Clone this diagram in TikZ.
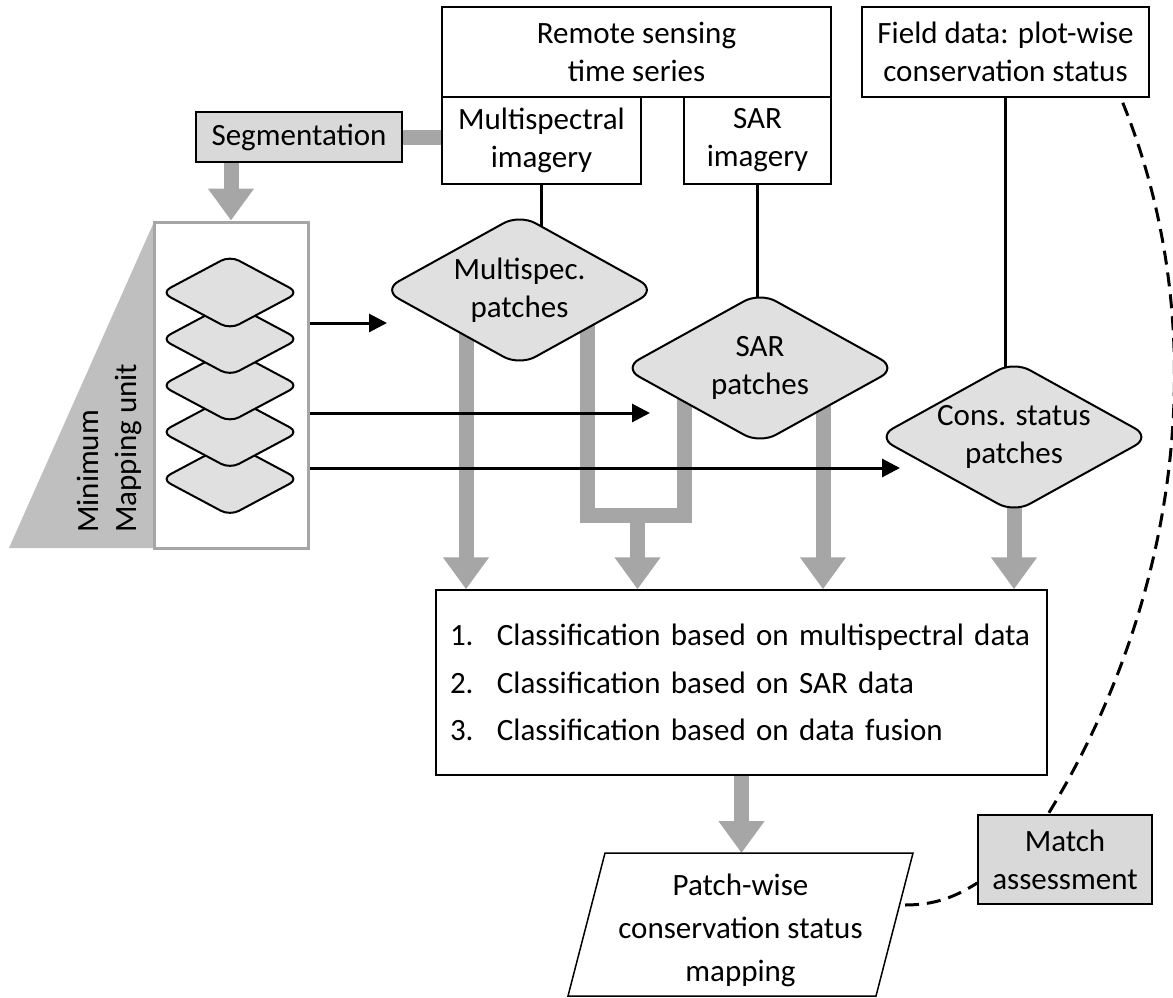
\documentclass[tikz,border=0pt]{standalone}
\usepackage{fontspec}
\setmainfont{Carlito}
\usetikzlibrary{arrows.meta,shapes.geometric,backgrounds}
\definecolor{barg}{HTML}{A6A6A6}
\definecolor{patchg}{HTML}{E0E0E0}
\definecolor{boxg}{HTML}{D9D9D9}
\definecolor{wedgeg}{HTML}{BFBFBF}
\begin{document}
\begin{tikzpicture}[x=1pt,y=-1pt,
  txt/.style={font=\fontsize{31}{38}\selectfont, align=center, inner sep=0pt},
  databox/.style={txt, draw, line width=1.5pt, fill=white},
  graybox/.style={databox, fill=boxg},
  patch/.style={txt, diamond, draw, line width=2pt, fill=patchg, rounded corners=18pt,
                aspect=1.8, minimum width=274pt, minimum height=152pt},
  mini/.style={diamond, draw, line width=2pt, fill=patchg, rounded corners=10pt,
               inner sep=0pt, minimum width=138pt, minimum height=74pt},
  link/.style={line width=2.5pt},
  flow/.style={line width=3pt, -{Triangle[width=18pt,length=18pt]}},
  gbar/.style={draw=barg, line width=15pt, line join=miter},
  garrow/.style={gbar, -{Triangle[width=44pt,length=32pt]}},
  check/.style={line width=3pt, dash pattern=on 14pt off 8pt}]
\useasboundingbox (0,0) rectangle (1173,998);

% data sources
\node[databox, minimum width=389pt, minimum height=90pt] (rs) at (636.5,52) {Remote sensing\\time series};
\node[databox, minimum width=199pt, minimum height=87pt] (msimg) at (541.5,140.5) {Multispectral\\imagery};
\node[databox, minimum width=147pt, minimum height=87pt] (sarimg) at (757.5,140.5) {SAR\\imagery};
\node[databox, minimum width=287pt, minimum height=90pt] (field) at (1005.5,52) {Field data: plot-wise\\conservation status};
\node[graybox, minimum width=206pt, minimum height=50pt] (seg) at (299,137) {Segmentation};

% minimum mapping unit panel
\fill[wedgeg] (154,222) -- (9,548) -- (154,548) -- cycle;
\node[draw=barg, line width=3pt, fill=white, minimum width=154pt, minimum height=326pt, inner sep=0pt] (mmu) at (231,385) {};
\node[txt, rotate=90, anchor=west, align=left] (mmulabel) at (109,533) {Minimum\\Mapping unit};
\node[mini] (u5) at (230,479) {};
\node[mini] (u4) at (230,432) {};
\node[mini] (u3) at (230,385.5) {};
\node[mini] (u2) at (230,339) {};
\node[mini] (u1) at (230,292.5) {};

% patch layers
\node[patch] (msp) at (519.5,290) {Multispec.\\patches};
\node[patch] (sar) at (760,368) {SAR\\patches};
\node[patch] (cons) at (1014,437) {Cons. status\\patches};

% classification
\node[databox, minimum width=611pt, minimum height=185pt, text width=583pt, align=left] (cls) at (741.5,682.5)
  {\makebox[47pt][l]{1.}Classification based on multispectral data\\[9.5pt]
   \makebox[47pt][l]{2.}Classification based on SAR data\\[9.5pt]
   \makebox[47pt][l]{3.}Classification based on data fusion};

% output map
\coordinate (pa) at (605,853);
\coordinate (pb) at (913,853);
\coordinate (pc) at (876,996);
\coordinate (pd) at (568,996);
\draw[line width=1.5pt, fill=white] (pa) -- (pb) -- (pc) -- (pd) -- cycle;
\node[txt, font=\fontsize{31}{43}\selectfont] (out) at (740.5,930) {Patch-wise\\conservation status\\mapping};
\coordinate (pr) at (905,905);

\node[graybox, minimum width=174pt, minimum height=89pt] (match) at (1065,859.5) {Match\\assessment};

% arrow targets and bar positions
\coordinate (a1) at (387,323);
\coordinate (a2) at (650,413);
\coordinate (a3) at (900,468);
\coordinate (b1) at (466,0);
\coordinate (b2) at (587.5,0);
\coordinate (b3) at (684.5,0);
\coordinate (b4) at (637.5,0);
\coordinate (b5) at (823,0);
\coordinate (jy) at (0,515.5);

\begin{scope}[on background layer]
  % segmentation flow
  \draw[gbar] (seg.east) -- (seg.east -| msimg.west);
  \draw[garrow] (seg.south -| mmu.north) -- (mmu.north);
  % imagery to patches
  \draw[link] (msimg.south) -- (msimg.south |- msp.center);
  \draw[link] (sarimg.south) -- (sarimg.south |- sar.center);
  \draw[link] (field.south) -- (field.south |- cons.center);
  % patches to classification
  \draw[garrow] (b1 |- msp.center) -- (b1 |- cls.north);
  \draw[gbar] (b2 |- msp.center) |- (b3 |- jy) -- (b3 |- sar.center);
  \draw[garrow] (b4 |- jy) -- (b4 |- cls.north);
  \draw[garrow] (b5 |- sar.center) -- (b5 |- cls.north);
  \draw[garrow] (cons.center) -- (cons.center |- cls.north);
  \draw[garrow] (cls.south) -- (cls.south |- pa);
  % validation
  \draw[check] ([xshift=-27pt,yshift=-5pt]field.south east)
     .. controls (1215,330) and (1180,600) .. ([xshift=-17pt]match.north);
  \draw[check] (pr) .. controls (935,905) and (955,897) .. ([yshift=-23.5pt]match.west);
\end{scope}

% mapping unit to patches
\draw[flow] (mmu.east |- a1) -- (a1);
\draw[flow] (mmu.east |- a2) -- (a2);
\draw[flow] (mmu.east |- a3) -- (a3);
\end{tikzpicture}
\end{document}
